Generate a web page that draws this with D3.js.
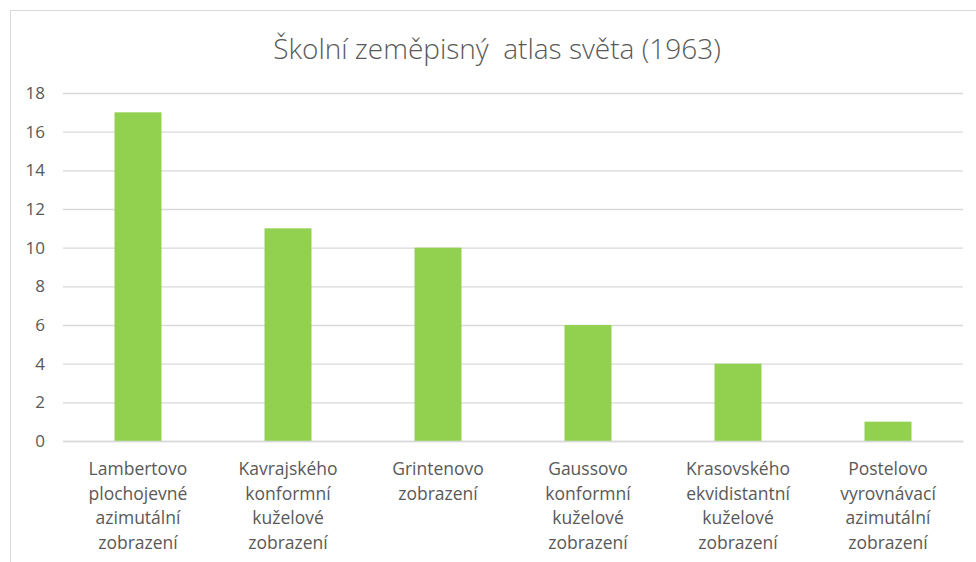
<!DOCTYPE html>
<html><head><meta charset="utf-8">
<script src="https://cdn.jsdelivr.net/npm/d3@7"></script>
<style>body{margin:0;background:#fff}svg{display:block}</style>
</head><body>
<svg id="c" width="976" height="562"></svg>
<script>
const title = "Školní zeměpisný  atlas světa (1963)";
const categories = [
  ["Lambertovo","plochojevné","azimutální","zobrazení"],
  ["Kavrajského","konformní","kuželové","zobrazení"],
  ["Grintenovo","zobrazení"],
  ["Gaussovo","konformní","kuželové","zobrazení"],
  ["Krasovského","ekvidistantní","kuželové","zobrazení"],
  ["Postelovo","vyrovnávací","azimutální","zobrazení"]
];
const values = [17, 11, 10, 6, 4, 1];
const yTicks = [0, 2, 4, 6, 8, 10, 12, 14, 16, 18];

const svg = d3.select("#c");
const font = "'Open Sans', sans-serif";
const txt = "#595959";
const grid = "#d9d9d9";

svg.append("rect").attr("x",10.5).attr("y",10.5).attr("width",1000).attr("height",600)
  .attr("fill","none").attr("stroke","#d9d9d9");

const m = {left:63, right:963, top:93, bottom:441};
const x = d3.scaleBand().domain(d3.range(values.length)).range([m.left, m.right]).paddingInner(0.687).paddingOuter(0.3435);
const y = d3.scaleLinear().domain([0,18]).range([m.bottom, m.top]);

svg.append("text").attr("x",497).attr("y",59).attr("text-anchor","middle")
  .attr("font-family",font).attr("font-size",28).attr("font-weight",300).attr("fill",txt)
  .style("white-space","pre").text(title);

const gy = svg.append("g").attr("transform",`translate(${m.left},0)`)
  .call(d3.axisLeft(y).tickValues(yTicks).tickSize(-(m.right-m.left)).tickPadding(18));
gy.select(".domain").remove();
gy.selectAll(".tick line").attr("stroke",grid).attr("stroke-width",1.3);
gy.selectAll(".tick text").attr("font-family",font).attr("font-size",17).attr("fill",txt);

svg.selectAll("rect.bar").data(values).join("rect").attr("class","bar")
  .attr("x",(d,i)=>x(i)).attr("width",x.bandwidth())
  .attr("y",d=>y(d)).attr("height",d=>y(0)-y(d)).attr("fill","#92d050");

const gx = svg.append("g").attr("transform",`translate(0,${m.bottom})`)
  .call(d3.axisBottom(x).tickSize(0).tickFormat(""));
gx.select(".domain").attr("stroke",grid).attr("stroke-width",1.3);
gx.selectAll(".tick").each(function(d){
  const t = d3.select(this).select("text").attr("font-family",font).attr("font-size",17.5)
    .attr("fill",txt).attr("text-anchor","middle").attr("y",0).attr("dy",null);
  categories[d].forEach((line,k)=>{
    t.append("tspan").attr("x",0).attr("y",34+k*24.7).text(line);
  });
});
</script>
</body></html>
